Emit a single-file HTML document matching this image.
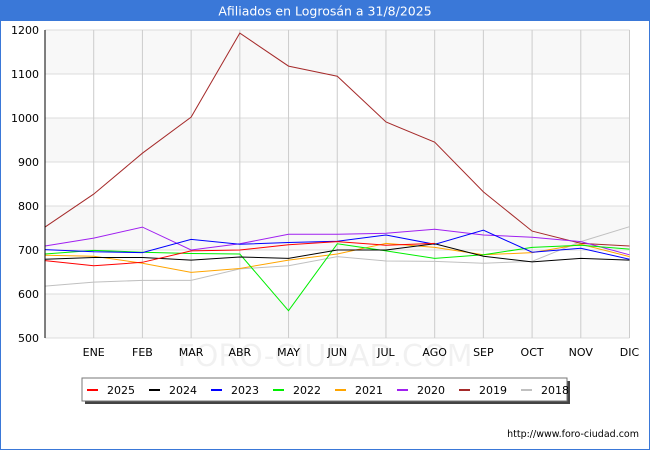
<!DOCTYPE html>
<html><head><meta charset="utf-8"><style>
body{margin:0;background:#fff;}
svg{display:block;font-family:"DejaVu Sans","Liberation Sans",sans-serif;}
</style></head><body>
<svg id="c" width="650" height="450" viewBox="0 0 650 450">
<rect x="0.5" y="0.5" width="649" height="449" fill="#fff" stroke="#3a78d8"/>
<rect x="0" y="0" width="650" height="21" fill="#3a78d8"/>
<text x="325" y="15.5" text-anchor="middle" font-size="12.5" fill="#fff">Afiliados en Logrosán a 31/8/2025</text>
<g id="plot"></g>
<text x="325" y="366" text-anchor="middle" font-size="30" fill="#000" opacity="0.05">FORO-CIUDAD.COM</text>
<rect x="85" y="381" width="485" height="23" fill="#444"/>
<rect x="82" y="378" width="485" height="23" fill="#fff" stroke="#777"/>
<g id="leg"></g>
<text x="639" y="437" text-anchor="end" font-size="9.5" fill="#000">http://www.foro-ciudad.com</text>
</svg>
<script>
const months=["","ENE","FEB","MAR","ABR","MAY","JUN","JUL","AGO","SEP","OCT","NOV","DIC"];
const yTicks=[500,600,700,800,900,1000,1100,1200];
const seriesNames=["2025","2024","2023","2022","2021","2020","2019","2018"];
const seriesColors=["#ff0000","#000000","#0000ff","#00ee00","#ffa500","#a020f0","#a52a2a","#c0c0c0"];
const s2025=[676,664,672,698,700,712,719,711,715];
const s2024=[679,683,683,677,684,681,700,700,714,686,673,681,677];
const s2023=[701,696,694,724,713,717,720,734,713,745,695,704,679];
const s2022=[691,699,695,692,691,562,714,698,681,689,706,711,702];
const s2021=[688,686,670,649,658,677,691,715,706,689,694,713,685];
const s2020=[709,727,752,700,714,736,736,738,747,734,729,719,689];
const s2019=[752,827,920,1002,1193,1118,1095,991,945,832,743,715,709];
const s2018=[618,627,631,631,657,664,685,675,674,670,674,719,753];
const allSeries=[s2025,s2024,s2023,s2022,s2021,s2020,s2019,s2018];
const NS="http://www.w3.org/2000/svg";
const X0=45,X1=629.5,Y0=338,Y1=30;
const xs=i=>X0+(X1-X0)*i/12;
const ys=v=>Y0-(v-500)*(Y0-Y1)/700;
const plot=document.getElementById('plot');
function mk(t,a,p){const e=document.createElementNS(NS,t);for(const k in a)e.setAttribute(k,a[k]);(p||plot).appendChild(e);return e;}
for(let i=0;i<yTicks.length-1;i++){
  const band=mk('rect',{x:X0,y:ys(yTicks[i+1]),width:X1-X0,height:ys(yTicks[i])-ys(yTicks[i+1]),fill:(i%2==0)?'#f8f8f8':'#ffffff'});
  
  
}
yTicks.forEach(v=>{
  const g=mk('line',{x1:X0,x2:X1,y1:ys(v),y2:ys(v),stroke:'#dddddd','stroke-width':1});
  
  
  const t=mk('text',{x:X0-6,y:ys(v)+4,'text-anchor':'end','font-size':11,fill:'#000'});
  t.textContent=v;
  
  
});
months.forEach((m,i)=>{
  if(i==0)return;
  const g=mk('line',{x1:xs(i),x2:xs(i),y1:Y1,y2:Y0,stroke:'#cccccc','stroke-width':1});
  
  
  const t=mk('text',{x:xs(i),y:Y0+18,'text-anchor':'middle','font-size':11,fill:'#000'});
  t.textContent=m;
  
  
});
for(let k=allSeries.length-1;k>=0;k--){
  const d=allSeries[k].map((v,i)=>xs(i).toFixed(1)+','+ys(v).toFixed(1)).join(' ');
  const l=mk('polyline',{points:d,fill:'none',stroke:seriesColors[k],'stroke-width':1});
  
  
}
const ax=mk('line',{x1:X0,x2:X0,y1:Y1,y2:Y0,stroke:'#000','stroke-width':1});


const leg=document.getElementById('leg');
seriesNames.forEach((n,i)=>{
  const x=87+i*62;
  const s=mk('rect',{x:x,y:389,width:11,height:2,fill:seriesColors[i]},leg);
  
  
  const t=mk('text',{x:x+20,y:394,'font-size':11,fill:'#000'},leg);
  t.textContent=n;
  
  
});
</script>
</body></html>
